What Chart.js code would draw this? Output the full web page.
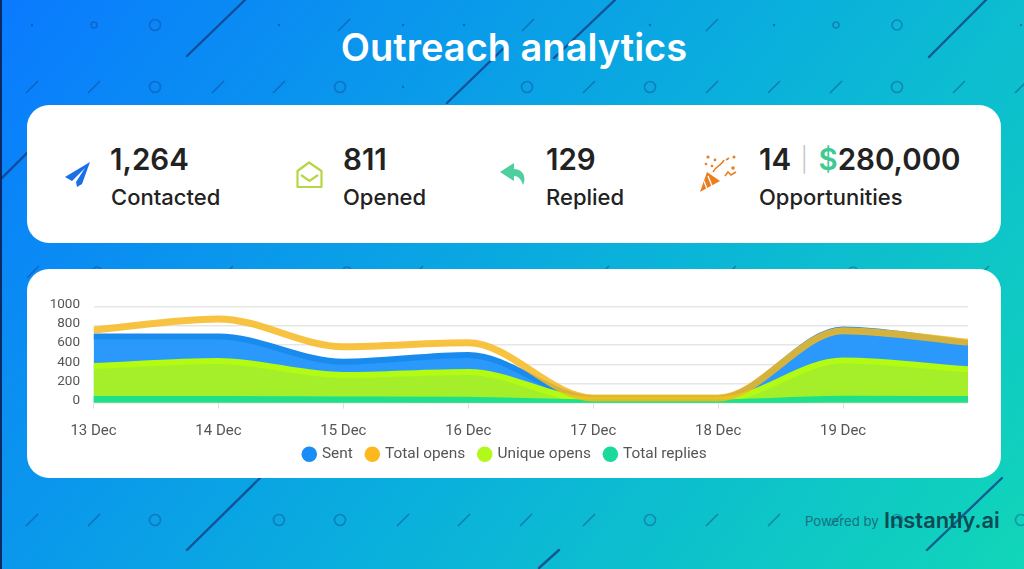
<!DOCTYPE html>
<html>
<head>
<meta charset="utf-8">
<script src="https://cdn.jsdelivr.net/npm/chart.js@4/dist/chart.umd.min.js"></script>
<style>
  html, body { margin: 0; padding: 0; }
  body { width: 1024px; height: 569px; overflow: hidden; position: relative;
         background: linear-gradient(128deg, #0a7aff 0%, #0ab0dc 55%, #11d6b8 100%);
         font-family: Inter, "Noto Sans", sans-serif; color: #222; }
  #edge { position: absolute; left: 0; top: 0; width: 2px; height: 569px; background: #0a2a66; }
  #deco, #icons { position: absolute; left: 0; top: 0; }
  .card { position: absolute; left: 27px; width: 974px; background: #fff; border-radius: 22px; }
  #card1 { top: 105px; height: 138px; }
  #card2 { top: 269px; height: 209px; }
  #title { position: absolute; left: 0; width: 1028px; top: 24px; text-align: center;
           color: #fff; font-size: 38px; font-weight: 600; line-height: 46px; }
  .num, .lab { position: absolute; white-space: nowrap; }
  .num { top: 140px; font-size: 29.5px; font-weight: 600; line-height: 38px; color: #222; }
  .lab { top: 183px; font-size: 22px; font-weight: 500; line-height: 28px; color: #222; }
  .num .sep { color: #c4c4c4; font-weight: 300; font-size: 24px; position: relative; top: -2px; margin: 0 3px 0 2px; }
  .num .usd { color: #3fca94; }
  #powered { position: absolute; left: 805px; top: 512px; font-size: 13.2px; line-height: 18px; color: #17707f; }
  #brand { position: absolute; left: 884px; top: 505px; font-size: 21.8px; font-weight: 600; line-height: 30px; color: #0c4a55; }
  #chart { position: absolute; left: 27px; top: 269px; }
</style>
</head>
<body>
<svg id="deco" width="1024" height="569"></svg>
<div id="edge"></div>
<div id="title">Outreach analytics</div>
<div class="card" id="card1"></div>
<div class="card" id="card2"></div>

<svg id="icons" width="1024" height="569">
  <path d="M90 162 L65 177 L72 181 L85 168 L76 182 L77 187 L82 184 Z" fill="#1a6fe8"/>
  <path d="M297.5 187 V171 L309 162.5 L321.5 171 V187 Z" fill="none" stroke="#b6d744" stroke-width="2.2" stroke-linejoin="round"/>
  <path d="M301 175 L309.5 181 L318 175" fill="none" stroke="#b6d744" stroke-width="2.2"/>
  <path d="M500 172 L514 163 V169 C522 169 527 176 523 185 C521 179 518 176 514 176 V181 Z" fill="#4fcfa0"/>
  <path d="M700 192 L707 172 L720 181 Z" fill="#ea7f22"/>
  <path d="M708 176 L712 186 M704 181 L707 189" stroke="#fff" stroke-width="1.3"/>
  <path d="M713 172 C716 165 722 166 724 160 M726 160 L729 158 M725 176 L728 172 L731 175 L736 172" fill="none" stroke="#ea7f22" stroke-width="1.6"/>
  <g fill="#ea7f22">
    <circle cx="708" cy="157" r="1.6"/><circle cx="715" cy="160" r="1.4"/><circle cx="706" cy="164" r="1.3"/>
    <circle cx="734" cy="157" r="1.5"/><circle cx="733" cy="168" r="1.8"/><circle cx="712" cy="166" r="1.3"/>
  </g>
</svg>

<div class="num" style="left:110px">1,264</div>
<div class="lab" style="left:111px">Contacted</div>
<div class="num" style="left:343px">811</div>
<div class="lab" style="left:343px">Opened</div>
<div class="num" style="left:546px">129</div>
<div class="lab" style="left:546px">Replied</div>
<div class="num" style="left:759px">14 <span class="sep">|</span> <span class="usd">$</span>280,000</div>
<div class="lab" style="left:759px">Opportunities</div>

<canvas id="chart" width="973" height="209"></canvas>

<div id="powered">Powered by</div>
<div id="brand">Instantly.ai</div>

<script>
const days = ['13 Dec', '14 Dec', '15 Dec', '16 Dec', '17 Dec', '18 Dec', '19 Dec', ''];
const sent = [690, 690, 427, 497, 45, 45, 763, 622];
const totalOpens = [758, 873, 584, 625, 50, 50, 750, 630];
const uniqueOpens = [382, 434, 288, 320, 30, 30, 440, 348];
const totalReplies = [38, 38, 34, 30, 5, 5, 42, 38];
const yTicks = [0, 200, 400, 600, 800, 1000];

// background pattern, only decoration
const longLines = [[187, 56, 245, 0], [447, 103, 507, 45], [554, 58, 615, 0], [929, 57, 986, 0],
    [0, 180, 27, 153], [187, 550, 260, 478], [539, 568, 559, 550], [927, 550, 1002, 478]];
const dashes = [[344, 25], [528, 25], [712, 25], [589, 87], [712, 87], [774, 87], [836, 87], [959, 87], [1021, 87],
    [32, 87], [94, 87], [218, 87], [279, 87], [32, 520], [94, 520], [403, 520], [464, 520], [526, 520], [589, 520],
    [712, 520], [774, 520], [836, 520], [33, 272], [227, 272], [417, 272], [603, 272], [730, 272], [983, 272]];
const rings = [[94, 25, 3], [155, 25, 5.5], [836, 25, 3], [897, 25, 5], [155, 87, 5.5], [340, 87, 5.5], [527, 87, 5.5],
    [650, 87, 5.5], [897, 87, 5.5], [155, 520, 5.5], [279, 520, 5.5], [340, 520, 5.5], [650, 520, 5.5], [897, 520, 5.5],
    [1021, 520, 5.5], [97, 272, 5], [347, 272, 5], [853, 272, 5]];
const dots = [[32, 25], [279, 25], [403, 25], [464, 25], [650, 25], [774, 25], [1021, 25], [403, 87]];

let deco = '';
longLines.forEach(l => {
    deco += `<line x1="${l[0]}" y1="${l[1]}" x2="${l[2]}" y2="${l[3]}" stroke="#123f86" stroke-opacity="0.8" stroke-width="2.4" stroke-linecap="round"/>`;
});
dashes.forEach(d => {
    deco += `<line x1="${d[0] - 6}" y1="${d[1] + 6}" x2="${d[0] + 6}" y2="${d[1] - 6}" stroke="#123f86" stroke-opacity="0.45" stroke-width="1.6"/>`;
});
rings.forEach(r => {
    deco += `<circle cx="${r[0]}" cy="${r[1]}" r="${r[2]}" fill="none" stroke="#123f86" stroke-opacity="0.4" stroke-width="1.6"/>`;
});
dots.forEach(d => {
    deco += `<circle cx="${d[0]}" cy="${d[1]}" r="1.2" fill="#123f86" fill-opacity="0.5"/>`;
});
document.getElementById('deco').innerHTML = deco;

const legendColors = ['#1a8cf5', '#fdb81e', '#b2f81a', '#1bd99b'];
const bandClip = { left: 0, right: 0, top: 10, bottom: 0 };

// x labels get clipped to the axis box, so the box stays tall and the legend moves up over it
const liftLegend = {
    id: 'liftLegend',
    afterLayout(chart) {
        chart.legend.top -= 6;
        chart.legend.bottom -= 6;
    }
};

const config = {
    type: 'line',
    data: {
        labels: days,
        datasets: [{
            label: 'Sent',
            data: sent,
            borderColor: '#1a8bee',
            backgroundColor: '#2a99fb',
            fill: 'origin',
            order: 4
        }, {
            label: 'Total opens',
            data: totalOpens,
            borderColor: 'rgba(246, 185, 30, 0.85)',
            backgroundColor: 'transparent',
            borderWidth: 7,
            fill: false,
            order: 1
        }, {
            label: 'Unique opens',
            data: uniqueOpens,
            borderColor: '#b3fb12',
            backgroundColor: '#a4ef2a',
            fill: 'origin',
            order: 3
        }, {
            label: 'Total replies',
            data: totalReplies,
            borderColor: '#1ee08a',
            backgroundColor: '#1ee08a',
            fill: 'origin',
            order: 2
        }]
    },
    plugins: [liftLegend],
    options: {
        responsive: false,
        animation: false,
        layout: { padding: { top: 37.7, right: 32, bottom: 0, left: 16 } },
        datasets: {
            line: {
                cubicInterpolationMode: 'monotone',
                borderWidth: 6,
                pointRadius: 0,
                clip: bandClip
            }
        },
        plugins: {
            tooltip: { enabled: false },
            legend: {
                position: 'bottom',
                labels: {
                    usePointStyle: true,
                    boxWidth: 10,
                    boxHeight: 11,
                    padding: 14.5,
                    color: '#555',
                    font: { family: 'Roboto', size: 15.4 },
                    generateLabels: chart => chart.data.datasets.map((ds, i) => ({
                        text: ds.label,
                        fillStyle: legendColors[i],
                        strokeStyle: legendColors[i],
                        fontColor: '#555',
                        lineWidth: 0,
                        pointStyle: 'circle',
                        datasetIndex: i
                    }))
                }
            }
        },
        scales: {
            x: {
                offset: false,
                afterFit: scale => { scale.height = 35.4; },
                border: { display: false },
                grid: {
                    drawOnChartArea: false,
                    // no tick under the last, unlabelled point
                    color: ctx => (ctx.index === days.length - 1 ? 'transparent' : '#dfdfdf'),
                    tickLength: 6
                },
                ticks: {
                    autoSkip: false,
                    maxRotation: 0,
                    padding: 14,
                    color: '#555',
                    font: { family: 'Roboto', size: 15 }
                }
            },
            y: {
                min: 0,
                max: 1000,
                afterBuildTicks: scale => { scale.ticks = yTicks.map(v => ({ value: v })); },
                afterFit: scale => { scale.width = 50.5; },
                border: { display: false },
                grid: { color: '#e6e6e6', lineWidth: 1.4, drawTicks: false },
                ticks: {
                    padding: 13.5,
                    color: '#555',
                    font: { family: 'Roboto', size: 13.5, lineHeight: '4px' },
                    // the empty second line lifts each label a little above its grid line
                    callback: v => [String(v), '']
                }
            }
        }
    }
};

new Chart(document.getElementById('chart'), config);
</script>
</body>
</html>
